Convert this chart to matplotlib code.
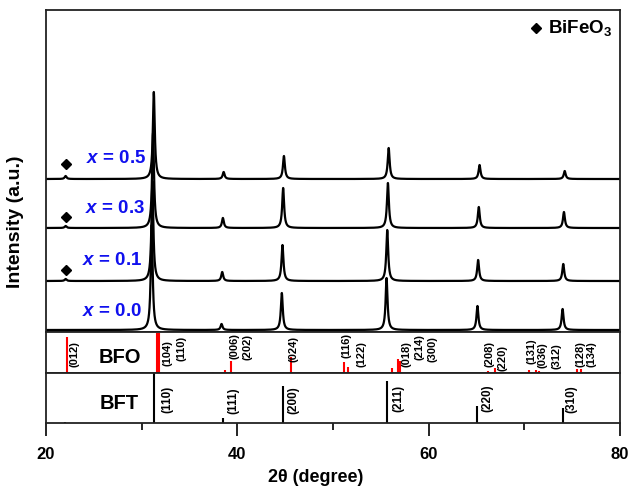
"""plot.py — XRD patterns of (1-x)BFT-xBFO with BFO / BFT reference lines"""

import numpy as np
import matplotlib
matplotlib.use("Agg")
import matplotlib.pyplot as plt

plt.rcParams['font.family'] = ['Liberation Sans', 'DejaVu Sans']
plt.rcParams['font.weight'] = 'bold'
plt.rcParams['mathtext.fontset'] = 'custom'
plt.rcParams['mathtext.it'] = 'Liberation Sans:bold:italic'
plt.rcParams['mathtext.rm'] = 'Liberation Sans'
plt.rcParams['mathtext.bf'] = 'Liberation Sans:bold'

# ========== 数据 ==========
SAMPLES = ["0.0", "0.1", "0.3", "0.5"]

# 峰位 (deg) 与峰高 (任意单位)
X00_POS = [31.05, 38.35, 44.65, 55.60, 65.10, 74.00]
X00_INT = [105, 6, 37, 52, 24, 21]
X01_POS = [22.05, 31.12, 38.42, 44.72, 55.67, 65.17, 74.07]
X01_INT = [2, 100, 9, 36, 51, 21, 17]
X03_POS = [22.05, 31.19, 38.49, 44.79, 55.74, 65.24, 74.14]
X03_INT = [2, 95, 10, 40, 45, 21, 16]
X05_POS = [22.05, 31.27, 38.57, 44.87, 55.82, 65.32, 74.22]
X05_INT = [3, 87, 7, 23, 31, 14, 8]

# BiFeO3 杂相标记 (只有 x = 0.1, 0.3, 0.5)
IMPURITY_POS = 22.1
IMPURITY_SAMPLES = ["0.1", "0.3", "0.5"]

# BFO 标准卡片
BFO_POS = [22.2, 31.6, 31.8, 37.45, 38.7, 39.3, 45.6, 51.15, 51.55,
           56.15, 56.8, 57.0, 66.2, 66.9, 70.5, 71.2, 71.5, 75.5, 75.9, 79.6]
BFO_INT = [88, 98, 98, 2, 7, 29, 39, 27, 15,
           12, 34, 29, 5, 12, 7, 7, 4, 10, 10, 3]
BFO_HKL = ["(012)", "(104)", "(110)", "(006)", "(202)", "(024)", "(116)",
           "(122)", "(018)", "(214)", "(300)", "(208)", "(220)", "(131)",
           "(036)", "(312)", "(128)", "(134)"]

# BFT 标准卡片
BFT_POS = [22.0, 31.3, 38.5, 44.8, 55.6, 65.1, 74.0]
BFT_INT = [3, 100, 10, 74, 84, 34, 30]
BFT_HKL = ["(110)", "(111)", "(200)", "(211)", "(220)", "(310)"]

# ========== 布局 ==========
OFFSETS = [2, 51, 104, 153]              # 各样品基线
LABEL_X = [30.0, 30.1, 30.3, 30.5]       # "x = ..." 右端
LABEL_DY = [18, 21, 20, 21]
DIAMOND_DY = {"0.1": 11, "0.3": 11, "0.5": 15}
BFO_LAB_X = [23.03, 32.75, 34.2, 39.75, 41.1, 45.9, 51.45, 53.0, 57.7,
             59.0, 60.35, 66.4, 67.75, 70.8, 71.95, 73.4, 75.9, 77.05]
BFO_LAB_Y = [0.46, 0.49, 0.61, 0.66, 0.63, 0.59, 0.68, 0.46, 0.46,
             0.63, 0.59, 0.46, 0.37, 0.54, 0.44, 0.41, 0.46, 0.46]
BFT_LAB_X = [32.65, 39.55, 45.9, 56.8, 66.1, 74.9]
BFT_LAB_Y = [0.48, 0.44, 0.46, 0.50, 0.50, 0.48]

GAMMA = 0.12  # 洛伦兹半高半宽 (deg)
tt = np.arange(20, 80.001, 0.01)


def pattern(pos, inten):
    y = np.zeros_like(tt)
    for p, h in zip(pos, inten):
        y += h * GAMMA**2 / ((tt - p)**2 + GAMMA**2)
    return y


fig = plt.figure(figsize=(6.28, 4.86), dpi=100)
L, W = 46 / 628, 574 / 628
ax = fig.add_axes([L, 1 - 332 / 486, W, 322 / 486])
ax_bfo = fig.add_axes([L, 1 - 373 / 486, W, 41 / 486], sharex=ax)
ax_bft = fig.add_axes([L, 1 - 423 / 486, W, 50 / 486], sharex=ax)

for a in (ax, ax_bfo, ax_bft):
    for s in a.spines.values():
        s.set_linewidth(1.3)
        s.set_color("#222222")

# ---- 主图 ----
all_pos = [X00_POS, X01_POS, X03_POS, X05_POS]
all_int = [X00_INT, X01_INT, X03_INT, X05_INT]
for i, name in enumerate(SAMPLES):
    y = pattern(all_pos[i], all_int[i]) + OFFSETS[i]
    ax.plot(tt, y, color="black", lw=1.6)
    ax.text(LABEL_X[i], OFFSETS[i] + LABEL_DY[i], f"$x$ = {name}",
            color="#1010ee", fontsize=13.5, fontweight="bold",
            ha="right", va="center")
    if name in IMPURITY_SAMPLES:
        ax.plot(IMPURITY_POS, OFFSETS[i] + DIAMOND_DY[name], marker="D",
                ms=5, color="black", ls="none")

ax.plot(0.853, 0.944, marker="D", ms=5, color="black",
        transform=ax.transAxes, ls="none")
ax.text(0.874, 0.944, "BiFeO$_3$", transform=ax.transAxes,
        fontsize=13.5, fontweight="bold", va="center", ha="left")

ax.set_xlim(20, 80)
ax.set_ylim(0, 322)
ax.set_yticks(OFFSETS[1:])
ax.tick_params(axis="y", direction="in", length=4, width=1.2, labelleft=False)
ax.tick_params(axis="x", bottom=False, labelbottom=False)

# ---- BFO ----
ax_bfo.vlines(BFO_POS, 0, BFO_INT, color="red", lw=1.5)
for x, yy, t in zip(BFO_LAB_X, BFO_LAB_Y, BFO_HKL):
    ax_bfo.text(x, yy * 100, t, rotation=90, fontsize=8, fontweight="bold",
                ha="center", va="center")
ax_bfo.text(27.7, 39, "BFO", fontsize=14.5, fontweight="bold",
            ha="center", va="center")
ax_bfo.set_ylim(0, 100)
ax_bfo.set_yticks([])
ax_bfo.tick_params(axis="x", bottom=False, labelbottom=False)

# ---- BFT ----
ax_bft.vlines(BFT_POS, 0, BFT_INT, color="black", lw=1.5)
for x, yy, t in zip(BFT_LAB_X, BFT_LAB_Y, BFT_HKL):
    ax_bft.text(x, yy * 100, t, rotation=90, fontsize=8.5, fontweight="bold",
                ha="center", va="center")
ax_bft.text(27.7, 40, "BFT", fontsize=14.5, fontweight="bold",
            ha="center", va="center")
ax_bft.set_ylim(0, 100)
ax_bft.set_yticks([])
ax_bft.set_xticks([20, 40, 60, 80])
ax_bft.set_xticks([30, 50, 70], minor=True)
ax_bft.tick_params(axis="x", which="major", direction="out", length=9,
                   width=1.2, pad=8, labelsize=12)
ax_bft.tick_params(axis="x", which="minor", direction="out", length=5,
                   width=1.2)
for lab in ax_bft.get_xticklabels():
    lab.set_fontweight("bold")

fig.text(316 / 628, 1 - 477 / 486, "2θ (degree)", fontsize=13,
         fontweight="bold", ha="center", va="center")
fig.text(16 / 628, 1 - 222 / 486, "Intensity (a.u.)", fontsize=14,
         fontweight="bold", rotation=90, ha="center", va="center")

fig.savefig("out.png", dpi=100)
